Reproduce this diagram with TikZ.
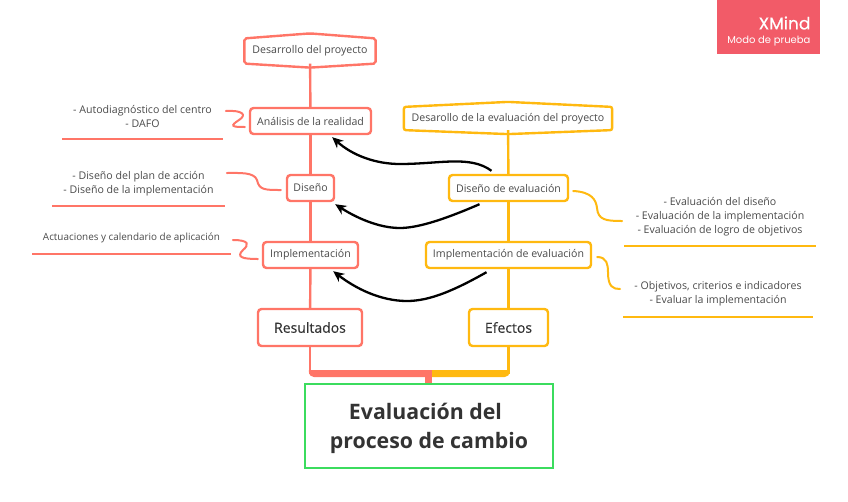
\documentclass[tikz,border=0pt]{standalone}
\usepackage{fontspec}
\setmainfont{Open Sans}
\newfontfamily\markfont{Poppins}
\newfontfamily\markbold[FakeBold=0.5]{Poppins}
\newfontfamily\midfont[FakeBold=0.3]{Open Sans}
\usetikzlibrary{arrows.meta}
\definecolor{cred}{HTML}{FF7567}
\definecolor{cyel}{HTML}{FFB910}
\definecolor{cgreen}{HTML}{3BDC5E}
\definecolor{cmark}{HTML}{F25B68}
\definecolor{ctext}{HTML}{4A4A4A}
\definecolor{cdark}{HTML}{333333}
\tikzset{
  every picture/.style={font=\rmfamily, line width=1.2pt},
  topic/.style={draw=#1, fill=white, rounded corners=3.5pt, line width=2.4pt, inner sep=0pt, font=\fontsize{10.6}{13}\selectfont, text=ctext},
  bigtopic/.style={topic=#1, font=\midfont\fontsize{14}{17}\selectfont, text=cdark},
  hexa/.style={fill=white, inner sep=0pt, font=\fontsize{10.6}{13}\selectfont, text=ctext},
  leaf/.style={inner sep=0pt, align=center, font=\fontsize{10.6}{14}\selectfont, text=ctext},
  spine/.style={draw=#1, line width=2.4pt},
  twig/.style={draw=#1, line width=2pt, line cap=round},
  rule/.style={draw=#1, line width=2pt},
  link/.style={-{Stealth[length=11pt,width=10pt]}, draw=black, line width=2.3pt},
}
\begin{document}
\begin{tikzpicture}[x=1pt, y=-1pt]
  \useasboundingbox (0,0) rectangle (848,501);
  % mark
  \node[fill=cmark, minimum width=103pt, minimum height=54pt, inner sep=0pt] (mark) at (768.5,27) {};
  \node[anchor=east, inner sep=0pt, text=white, font=\markbold\fontsize{17}{18}\selectfont] (markA) at (811,23) {XMind};
  \node[anchor=east, inner sep=0pt, text=white, font=\markfont\fontsize{10}{13}\selectfont] (markB) at (811,41) {Modo de prueba};
  % heads
  \node[hexa, minimum width=130pt, minimum height=24pt] (dev) at (310,51) {Desarrollo del proyecto};
  \node[hexa, minimum width=207pt, minimum height=22pt] (deval) at (508,118.5) {Desarollo de la evaluación del proyecto};
  \foreach \n/\c in {dev/cred, deval/cyel}
    \draw[\c, line width=2.4pt, rounded corners=2pt] (\n.north west) -- ([yshift=5pt]\n.north) -- (\n.north east) -- (\n.south east) -- ([yshift=-4pt]\n.south) -- (\n.south west) -- cycle;
  % topics
  \foreach \n/\x/\y/\w/\c/\t in {
    ana/310.5/121/121/cred/{Análisis de la realidad},
    dis/310.5/188/47/cred/{Diseño},
    imp/310.5/255/95/cred/{Implementación},
    disev/508.5/188/119/cyel/{Diseño de evaluación},
    impev/508.5/255/165/cyel/{Implementación de evaluación}}
    \node[topic=\c, minimum width=\w pt, minimum height=26pt] (\n) at (\x,\y) {\t};
  \node[bigtopic=cred, minimum width=104pt, minimum height=37pt] (res) at (310,327.5) {Resultados};
  \node[bigtopic=cyel, minimum width=79pt, minimum height=37pt] (efe) at (508.5,327.5) {Efectos};
  \node[draw=cgreen, line width=2.4pt, inner sep=0pt, minimum width=248pt, minimum height=84pt, text height=50pt, align=center, text=cdark, font=\fontsize{21.3}{29}\selectfont\bfseries] (main) at (429,426) {Evaluación del\hspace*{7pt}\\proceso de cambio};
  % spines
  \foreach \a/\b in {dev/ana, ana/dis, dis/imp, imp/res} \draw[spine=cred] (\a) -- (\b);
  \foreach \a/\b in {deval/disev, disev/impev, impev/efe} \draw[spine=cyel] (\a) -- (\b);
  \coordinate (jn) at (428.5,373.5);
  \coordinate (jr) at (res.south |- jn);
  \coordinate (jy) at (efe.south |- jn);
  \draw[spine=cred] (res.south) -- (jr);
  \draw[spine=cyel] (efe.south) -- (jy);
  \fill[cred] (311.2,370) -- (308.8,370) [rounded corners=5pt] -- (308.8,377) [sharp corners] -- (432,377) -- (432,370) -- cycle;
  \fill[cyel] (507.3,370) -- (509.7,370) [rounded corners=5pt] -- (509.7,377) [sharp corners] -- (432,377) -- (432,370) -- cycle;
  \draw[cred, line width=7pt] (jn) -- (jn |- main.north);
  % leaves
  \foreach \n/\x/\y/\w/\h/\t in {
    la/142.5/116.5/159/43/{- Autodiagnóstico del centro\\- DAFO},
    lb/138.5/183.5/171/43/{- Diseño del plan de acción\\- Diseño de la implementación},
    lc/131.5/238/197/30/{\fontsize{9.9}{13}\selectfont Actuaciones y calendario de aplicación},
    ld/720/217/190/56/{- Evaluación del diseño\\- Evaluación de la implementación\\- Evaluación de logro de objetivos},
    le/718/294/188/44/{- Objetivos, criterios e indicadores\\- Evaluar la implementación}}
    \node[leaf, minimum width=\w pt, minimum height=\h pt] (\n) at (\x,\y) {\t};
  \foreach \n/\c in {la/cred, lb/cred, lc/cred, ld/cyel, le/cyel}
    \draw[rule=\c] (\n.south west) -- (\n.south east);
  % twigs
  \draw[twig=cred] ([shift={(-23,-10)}]ana.west) .. controls (243,110) and (247,115) .. (239,120) .. controls (230,126) and (231,127) .. ([shift={(-4,6)}]ana.west);
  \draw[twig=cred] ([shift={(-59,-15)}]dis.west) .. controls (240,173) and (254,172) .. (257,180) .. controls (259,190) and (265,190) .. ([shift={(-5,2)}]dis.west);
  \draw[twig=cred] ([shift={(-29,-15)}]imp.west) .. controls (250,240) and (249,245) .. (243,250) .. controls (236,257) and (242,259) .. ([shift={(-4,4)}]imp.west);
  \draw[twig=cyel] ([shift={(4,3)}]disev.east) .. controls (592,192) and (596,200) .. (597,208) .. controls (598,220) and (606,221) .. (622,221);
  \draw[twig=cyel] ([shift={(5,2)}]impev.east) .. controls (607,257) and (608,265) .. (608,272) .. controls (608,287) and (613,289) .. (620,289);
  % links
  \draw[link] ([shift={(-17,-3)}]disev.north) .. controls (470,155) and (440,164) .. (400,164) .. controls (375,164) and (352,155) .. ([shift={(-40,2)}]ana.south east);
  \draw[link] ([shift={(-29,2)}]disev.south) .. controls (450,217) and (420,228) .. (400,228) .. controls (378,228) and (355,217) .. ([shift={(0,2)}]dis.south east);
  \draw[link] ([shift={(-22,3)}]impev.south) .. controls (455,290) and (430,301) .. (407,301) .. controls (380,301) and (355,288) .. ([shift={(-26,2)}]imp.south east);
\end{tikzpicture}
\end{document}
